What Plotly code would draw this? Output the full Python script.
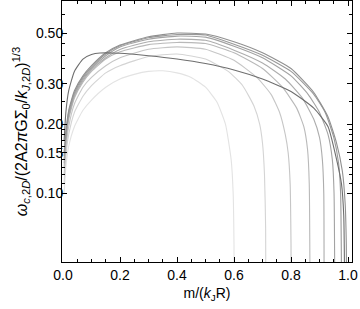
import plotly.graph_objects as go

# cutoff ~0.60 (lightest)
x1 = [0.004, 0.01, 0.02, 0.04, 0.07, 0.1, 0.15, 0.2, 0.25, 0.3, 0.35, 0.4, 0.45, 0.5, 0.54, 0.57, 0.59, 0.597, 0.6, 0.601]
y1 = [0.10, 0.13, 0.16, 0.195, 0.23, 0.255, 0.29, 0.315, 0.33, 0.34, 0.342, 0.335, 0.32, 0.29, 0.25, 0.20, 0.14, 0.10, 0.06, 0.03]

# cutoff ~0.71
x2 = [0.004, 0.01, 0.02, 0.04, 0.07, 0.1, 0.15, 0.2, 0.3, 0.4, 0.5, 0.58, 0.63, 0.67, 0.69, 0.70, 0.707, 0.711, 0.712]
y2 = [0.11, 0.145, 0.18, 0.225, 0.265, 0.295, 0.335, 0.36, 0.395, 0.405, 0.385, 0.34, 0.295, 0.24, 0.20, 0.165, 0.12, 0.07, 0.03]

# cutoff ~0.80
x3 = [0.004, 0.01, 0.02, 0.04, 0.07, 0.1, 0.15, 0.2, 0.3, 0.4, 0.5, 0.6, 0.68, 0.73, 0.76, 0.78, 0.79, 0.797, 0.8, 0.801]
y3 = [0.12, 0.155, 0.195, 0.245, 0.29, 0.32, 0.36, 0.39, 0.425, 0.435, 0.425, 0.38, 0.32, 0.27, 0.225, 0.18, 0.15, 0.11, 0.06, 0.03]

# cutoff ~0.87
x4 = [0.004, 0.01, 0.02, 0.04, 0.07, 0.1, 0.15, 0.2, 0.3, 0.4, 0.5, 0.6, 0.7, 0.77, 0.82, 0.845, 0.858, 0.864, 0.867]
y4 = [0.13, 0.165, 0.21, 0.26, 0.305, 0.34, 0.385, 0.414, 0.445, 0.455, 0.45, 0.41, 0.35, 0.29, 0.235, 0.195, 0.155, 0.11, 0.03]

# cutoff ~0.92
x5 = [0.004, 0.01, 0.02, 0.04, 0.07, 0.1, 0.15, 0.2, 0.3, 0.4, 0.5, 0.6, 0.7, 0.78, 0.84, 0.88, 0.9, 0.91, 0.915, 0.916]
y5 = [0.135, 0.17, 0.215, 0.265, 0.31, 0.345, 0.39, 0.424, 0.458, 0.47, 0.465, 0.421, 0.37, 0.315, 0.26, 0.21, 0.175, 0.14, 0.10, 0.03]

# cutoff ~0.95
x6 = [0.004, 0.01, 0.02, 0.04, 0.07, 0.1, 0.15, 0.2, 0.3, 0.4, 0.5, 0.6, 0.7, 0.8, 0.86, 0.9, 0.93, 0.945, 0.951, 0.954]
y6 = [0.14, 0.175, 0.22, 0.27, 0.315, 0.35, 0.398, 0.435, 0.47, 0.485, 0.48, 0.438, 0.39, 0.325, 0.27, 0.225, 0.18, 0.14, 0.10, 0.03]

# cutoff ~0.98
x7 = [0.004, 0.01, 0.02, 0.04, 0.07, 0.1, 0.15, 0.2, 0.3, 0.4, 0.5, 0.6, 0.7, 0.8, 0.88, 0.92, 0.95, 0.967, 0.974, 0.978]
y7 = [0.145, 0.18, 0.225, 0.275, 0.32, 0.355, 0.405, 0.44, 0.477, 0.493, 0.49, 0.447, 0.40, 0.34, 0.27, 0.225, 0.175, 0.135, 0.10, 0.03]

# cutoff ~1.0
x8 = [0.004, 0.01, 0.02, 0.04, 0.07, 0.1, 0.15, 0.2, 0.3, 0.4, 0.5, 0.6, 0.7, 0.8, 0.88, 0.93, 0.96, 0.98, 0.99, 0.994, 0.996]
y8 = [0.15, 0.185, 0.23, 0.28, 0.325, 0.36, 0.41, 0.443, 0.482, 0.50, 0.495, 0.458, 0.41, 0.35, 0.275, 0.215, 0.165, 0.125, 0.09, 0.06, 0.03]

# dark curve, early flat peak
x9 = [0.004, 0.01, 0.02, 0.04, 0.07, 0.1, 0.13, 0.2, 0.3, 0.4, 0.5, 0.6, 0.7, 0.8, 0.88, 0.93, 0.96, 0.977, 0.985, 0.989]
y9 = [0.17, 0.225, 0.28, 0.34, 0.385, 0.403, 0.409, 0.408, 0.398, 0.385, 0.368, 0.345, 0.315, 0.278, 0.235, 0.195, 0.14, 0.11, 0.08, 0.03]

curves = [(x1, y1, "#e3e3e3"), (x2, y2, "#d4d4d4"), (x3, y3, "#c6c6c6"),
          (x4, y4, "#b9b9b9"), (x5, y5, "#adadad"), (x6, y6, "#a3a3a3"),
          (x7, y7, "#999999"), (x8, y8, "#909090"), (x9, y9, "#6e6e6e")]

yticks = [0.10, 0.15, 0.20, 0.30, 0.50]
ylabels = ["0.10", "0.15", "0.20", "0.30", "0.50"]
yminor = [0.11, 0.12, 0.13, 0.14, 0.16, 0.17, 0.18, 0.19, 0.25, 0.35, 0.40, 0.45, 0.60]

fnt = "Liberation Sans, Arial"

fig = go.Figure()
for xs, ys, col in curves:
    fig.add_trace(go.Scatter(x=xs, y=ys, mode="lines", line=dict(color=col, width=1.1, shape="spline", smoothing=0.5),
                             showlegend=False, hoverinfo="skip"))

fig.update_xaxes(range=[-0.0035, 1.014], showgrid=False, zeroline=False, showline=True, linecolor="black",
                 linewidth=1, mirror="ticks", ticks="inside", ticklen=5, tickcolor="black", automargin=False,
                 tickvals=[0, 0.2, 0.4, 0.6, 0.8, 1.0], ticktext=["0.0", "0.2", "0.4", "0.6", "0.8", "1.0"],
                 minor=dict(dtick=0.05, ticks="inside", ticklen=3, tickcolor="black"),
                 tickfont=dict(family=fnt, size=14, color="black"),
                 title=dict(text="m/(<i>k</i><sub>J</sub>R)", font=dict(family=fnt, size=14, color="black"),
                            standoff=6))
fig.update_yaxes(type="log", range=[-1.301, -0.161], showgrid=False, zeroline=False, showline=True, linecolor="black",
                 linewidth=1, mirror="ticks", ticks="inside", ticklen=5, tickcolor="black", automargin=False,
                 tickvals=yticks, ticktext=ylabels, ticklabelstandoff=-5,
                 minor=dict(tickvals=yminor, ticks="inside", ticklen=3, tickcolor="black"),
                 tickfont=dict(family=fnt, size=14, color="black"),
                 title=dict(text="<i>ω</i><sub><i>c</i>,2<i>D</i></sub>/(2A2<i>π</i>GΣ<sub>0</sub>/<i>k</i><sub><i>J</i>,2<i>D</i></sub>)<sup>1/3</sup>",
                            font=dict(family=fnt, size=16, color="black"), standoff=4))

fig.update_layout(width=360, height=309, margin=dict(l=62, r=8, t=1, b=47),
                  paper_bgcolor="white", plot_bgcolor="white")

fig.write_html("out.html", config={"displayModeBar": False},
               post_script="document.body.style.margin='0';")
